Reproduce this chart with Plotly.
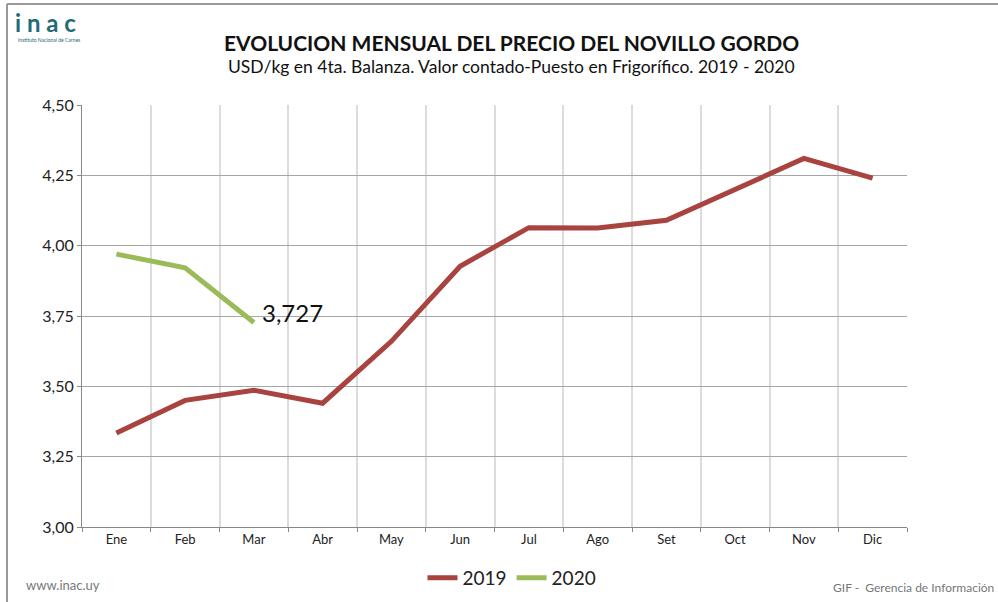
import plotly.graph_objects as go

months = ["Ene", "Feb", "Mar", "Abr", "May", "Jun", "Jul", "Ago", "Set", "Oct", "Nov", "Dic"]
price_2019 = [3.334, 3.450, 3.486, 3.440, 3.660, 3.927, 4.064, 4.063, 4.090, 4.200, 4.310, 4.240]
price_2020 = [3.970, 3.921, 3.727]
y_ticks = [3.00, 3.25, 3.50, 3.75, 4.00, 4.25, 4.50]
last_label = "3,727"

FONT = "Lato, 'Open Sans', sans-serif"
W, H = 998, 602
l, r, t, b = 82, 91, 105, 75
pw, ph = W - l - r, H - t - b


def px(x):
    return (x - l) / pw


def py(y_from_top):
    return (H - y_from_top - b) / ph


fig = go.Figure()
fig.add_trace(go.Scatter(x=months, y=price_2019, mode="lines", name="2019",
                         line=dict(color="#a9433f", width=5)))
fig.add_trace(go.Scatter(x=months[:len(price_2020)], y=price_2020, mode="lines", name="2020",
                         line=dict(color="#9bbb59", width=5)))


def note(text, x, y, size, color, xanchor="center"):
    return dict(text=text, x=px(x), y=py(y), xref="paper", yref="paper",
                xanchor=xanchor, yanchor="middle", showarrow=False,
                font=dict(size=size, color=color))


annotations = [
    dict(text=last_label, x=months[len(price_2020) - 1], y=price_2020[-1], xref="x", yref="y",
         xanchor="left", yanchor="middle", xshift=6, yshift=10, showarrow=False,
         font=dict(size=24, color="#111")),
    note("<b>EVOLUCION MENSUAL DEL PRECIO DEL NOVILLO GORDO</b>", 511, 42, 21, "#111"),
    note("USD/kg en 4ta. Balanza. Valor contado-Puesto en Frigorífico. 2019 - 2020", 511, 66, 17.5, "#111"),
    note("<b>i n a c</b>", 13, 22, 24, "#1f6b78", "left"),
    note("Instituto Nacional de Carnes", 16, 40, 5, "#1f6b78", "left"),
    note("www.inac.uy", 24, 585, 13, "#777", "left"),
    note("GIF -  Gerencia de Información", 996, 587, 12, "#777", "right"),
]

shapes = [
    dict(type="line", xref="paper", yref="paper", x0=px(7), x1=px(7), y0=py(602), y1=py(4),
         line=dict(color="#999", width=2)),
    dict(type="line", xref="paper", yref="paper", x0=px(7), x1=px(998), y0=py(4), y1=py(4),
         line=dict(color="#999", width=2)),
]

fig.update_layout(
    width=W, height=H,
    margin=dict(l=l, r=r, t=t, b=b, autoexpand=False),
    paper_bgcolor="white", plot_bgcolor="white",
    separators=",.",
    font=dict(family=FONT, color="#222"),
    showlegend=True,
    legend=dict(orientation="h", x=px(512), xanchor="center", xref="paper",
                y=py(578), yanchor="middle", font=dict(size=19, color="#222"),
                itemwidth=30, tracegroupgap=0),
    xaxis=dict(type="category", categoryorder="array", categoryarray=months,
               tickson="boundaries", showgrid=True, gridcolor="#dcdcdc", gridwidth=1.5,
               showline=True, linecolor="#888", linewidth=1,
               ticks="outside", ticklen=4, tickcolor="#888",
               tickfont=dict(size=13, color="#222"), range=[-0.5, 11.5]),
    yaxis=dict(range=[3.0, 4.5], tickvals=y_ticks, tickformat=".2f",
               showgrid=True, gridcolor="#a6a6a6", gridwidth=1.2,
               showline=True, linecolor="#888", linewidth=1,
               ticks="outside", ticklen=4, tickcolor="#888",
               tickfont=dict(size=16, color="#222"), zeroline=False),
    annotations=annotations,
    shapes=shapes,
)

fig.write_html("out.html", config={"displayModeBar": False})

# remove default page margin so the figure sits at the window's corner
with open("out.html", encoding="utf-8") as f:
    html = f.read()
html = html.replace("<body>", '<body style="margin:0;overflow:hidden">', 1)
with open("out.html", "w", encoding="utf-8") as f:
    f.write(html)
